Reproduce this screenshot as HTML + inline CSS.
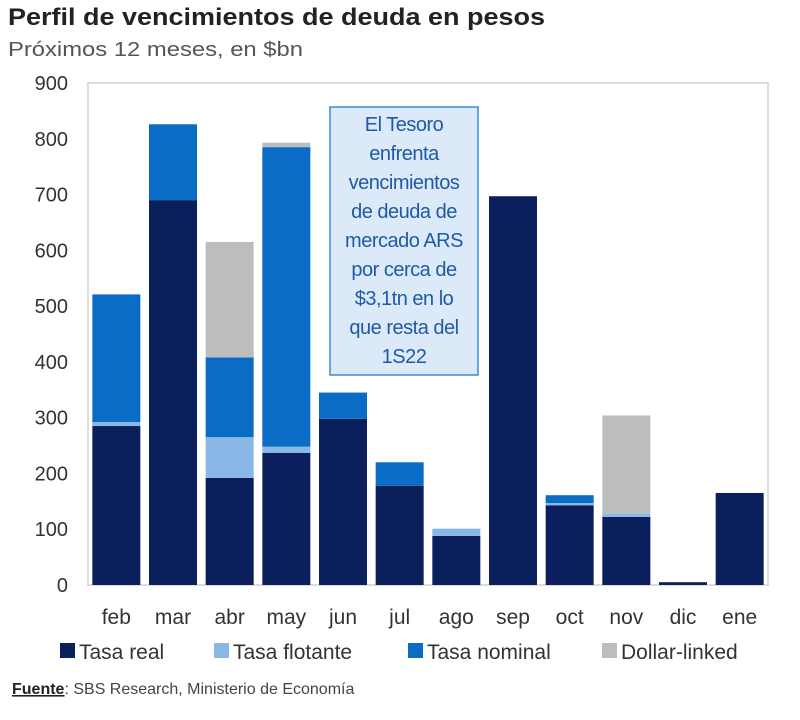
<!DOCTYPE html>
<html><head><meta charset="utf-8">
<style>
body{margin:0;background:#fff;width:800px;height:715px;overflow:hidden;font-family:"Liberation Sans",sans-serif;}
</style></head>
<body>
<svg id="chart" width="800" height="715" xmlns="http://www.w3.org/2000/svg">
<text x="8" y="25" font-size="24" font-weight="bold" fill="#222" textLength="537" lengthAdjust="spacingAndGlyphs">Perfil de vencimientos de deuda en pesos</text>
<text x="8" y="56" font-size="20" fill="#555" textLength="295" lengthAdjust="spacingAndGlyphs">Próximos 12 meses, en $bn</text>
<rect x="88" y="83" width="680" height="502" fill="none" stroke="#d0d0d0" stroke-width="1.5"/>
<g id="bars"></g>
<g id="yticks"></g>
<g id="xticks"></g>
<g>
<rect x="330" y="107" width="148" height="268" fill="#dbe9f8" stroke="#3a8ad6" stroke-width="1.5"/>
<text x="404" y="131" font-size="20" fill="#1f5aa6" text-anchor="middle" letter-spacing="-0.5">
<tspan x="404" dy="0">El Tesoro</tspan><tspan x="404" dy="29">enfrenta</tspan><tspan x="404" dy="29">vencimientos</tspan><tspan x="404" dy="29">de deuda de</tspan><tspan x="404" dy="29">mercado ARS</tspan><tspan x="404" dy="29">por cerca de</tspan><tspan x="404" dy="29">$3,1tn en lo</tspan><tspan x="404" dy="29">que resta del</tspan><tspan x="404" dy="29">1S22</tspan></text>
</g>
<g font-size="21" fill="#333">
<rect x="60" y="643" width="15" height="15" fill="#0b1f5c"/>
<text x="79" y="659">Tasa real</text>
<rect x="214" y="643" width="15" height="15" fill="#8ab8e6"/>
<text x="233" y="659">Tasa flotante</text>
<rect x="408" y="643" width="15" height="15" fill="#0a6cc4"/>
<text x="427" y="659">Tasa nominal</text>
<rect x="602" y="643" width="15" height="15" fill="#bdbdbd"/>
<text x="621" y="659">Dollar-linked</text>
</g>
<text x="12" y="694" font-size="16" fill="#444"><tspan font-weight="bold" text-decoration="underline" fill="#222">Fuente</tspan>: SBS Research, Ministerio de Economía</text>
</svg>
<script>
const categories=["feb","mar","abr","may","jun","jul","ago","sep","oct","nov","dic","ene"];
const tasaReal=[285,690,192,237,298,178,88,697,143,122,5,165];
const tasaFlotante=[7,0,73,11,0,0,13,0,4,6,0,0];
const tasaNominal=[229,136,143,537,47,42,0,0,14,0,0,0];
const dollarLinked=[0,0,207,8,0,0,0,0,0,176,0,0];
const yTicks=[0,100,200,300,400,500,600,700,800,900];
const NS="http://www.w3.org/2000/svg";
const x0=88,x1=768,yb=585,yt=83,ymax=900;
const band=(x1-x0)/categories.length;
const bw=48;
function xs(i){return x0+band*(i+0.5);}
function ys(v){return yb-(v/ymax)*(yb-yt);}
const series=[[tasaReal,"#0b1f5c","tasa-real"],[tasaFlotante,"#8ab8e6","tasa-flotante"],[tasaNominal,"#0a6cc4","tasa-nominal"],[dollarLinked,"#bdbdbd","dollar-linked"]];
const gb=document.getElementById("bars");
categories.forEach((c,i)=>{
  let acc=0;
  series.forEach(([arr,col,nm])=>{
    const v=arr[i]; if(!v)return;
    const r=document.createElementNS(NS,"rect");
    r.setAttribute("x",xs(i)-bw/2);
    r.setAttribute("y",ys(acc+v));
    r.setAttribute("width",bw);
    r.setAttribute("height",ys(acc)-ys(acc+v));
    r.setAttribute("fill",col);
    
    
    gb.appendChild(r);
    acc+=v;
  });
  const t=document.createElementNS(NS,"text");
  t.setAttribute("x",xs(i));t.setAttribute("y",624);
  t.setAttribute("font-size","21");t.setAttribute("fill","#333");t.setAttribute("text-anchor","middle");
  t.textContent=c;
  
  
  document.getElementById("xticks").appendChild(t);
});
yTicks.forEach(v=>{
  const t=document.createElementNS(NS,"text");
  t.setAttribute("x",68);t.setAttribute("y",ys(v)+7);
  t.setAttribute("font-size","20");t.setAttribute("fill","#333");t.setAttribute("text-anchor","end");
  t.textContent=v;
  
  
  document.getElementById("yticks").appendChild(t);
});
</script>
</body></html>
